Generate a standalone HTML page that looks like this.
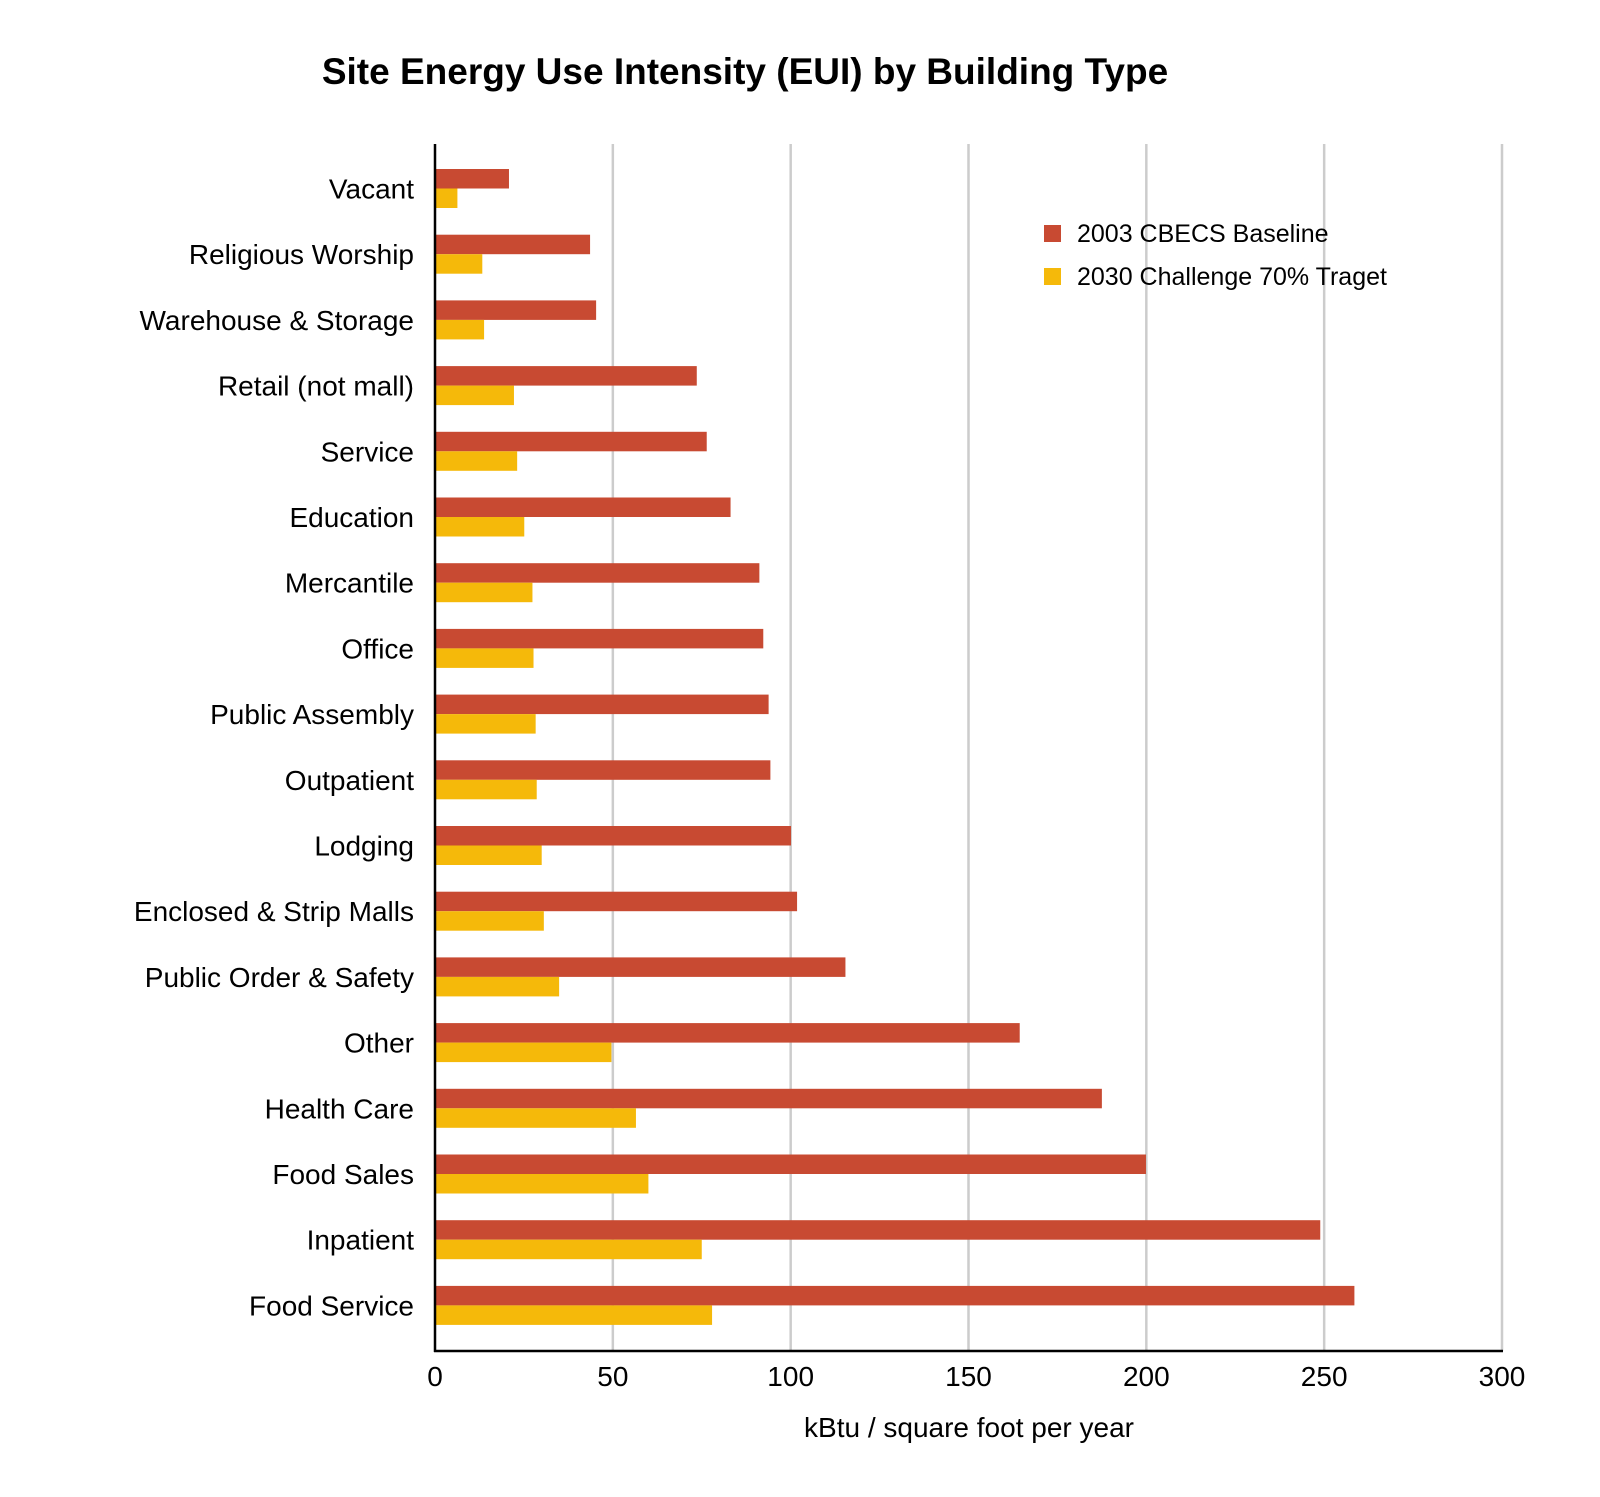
<!DOCTYPE html>
<html><head><meta charset="utf-8"><style>
body{margin:0;background:#fff;}
svg{display:block;font-family:"Liberation Sans",Arial,sans-serif;}
</style></head><body>
<svg id="chart" width="1600" height="1497" viewBox="0 0 1600 1497">
<text x="745" y="84" text-anchor="middle" font-size="37" font-weight="bold" fill="#000">Site Energy Use Intensity (EUI) by Building Type</text>
<g id="grid"></g><g id="bars"></g><g id="labels"></g><g id="ticks"></g>
<line x1="435" y1="144" x2="435" y2="1352" stroke="#000" stroke-width="2.5"/>
<line x1="434" y1="1351" x2="1503" y2="1351" stroke="#000" stroke-width="2.5"/>
<text x="969" y="1437" text-anchor="middle" font-size="28">kBtu / square foot per year</text>
<g>
<rect x="1044" y="225" width="17" height="17" fill="#c84a32"/>
<text x="1077" y="242" font-size="25">2003 CBECS Baseline</text>
<rect x="1044" y="268" width="17" height="17" fill="#f5b90a"/>
<text x="1077" y="285" font-size="25">2030 Challenge 70% Traget</text>
</g>
</svg>
<script>
const categories=["Vacant","Religious Worship","Warehouse & Storage","Retail (not mall)","Service","Education","Mercantile","Office","Public Assembly","Outpatient","Lodging","Enclosed & Strip Malls","Public Order & Safety","Other","Health Care","Food Sales","Inpatient","Food Service"];
const baseline=[20.8,43.6,45.3,73.6,76.4,83.1,91.2,92.3,93.8,94.3,100.1,101.8,115.4,164.4,187.5,199.9,248.9,258.5];
const target=[6.3,13.3,13.8,22.2,23.1,25.1,27.4,27.7,28.3,28.6,30.0,30.6,34.9,49.6,56.5,60.0,75.0,77.9];
const xTicks=[0,50,100,150,200,250,300];
const NS="http://www.w3.org/2000/svg";
const x=v=>435+v*(1502-435)/300;
const rowTop=i=>169+i*65.7;
const bh=19.5;
function mk(tag,attrs,parent,txt){const e=document.createElementNS(NS,tag);for(const k in attrs)e.setAttribute(k,attrs[k]);if(txt!==undefined)e.textContent=txt;document.getElementById(parent).appendChild(e);return e;}
xTicks.forEach(t=>{
 if(t>0){const g=mk('line',{x1:x(t),x2:x(t),y1:144,y2:1351,stroke:'#cccccc','stroke-width':2.5},'grid');
 
 }
 const l=mk('text',{x:x(t),y:1386,'text-anchor':'middle','font-size':28},'ticks',String(t));
 
 
});
categories.forEach((c,i)=>{
 const y=rowTop(i);
 const r=mk('rect',{x:x(0),y:y,width:x(baseline[i])-x(0),height:bh,fill:'#c84a32'},'bars');
 
 
 const t=mk('rect',{x:x(0),y:y+bh,width:x(target[i])-x(0),height:bh,fill:'#f5b90a'},'bars');
 
 
 const l=mk('text',{x:414,y:y+bh+10,'text-anchor':'end','font-size':28},'labels',c);
 
 
});
</script>
</body></html>
